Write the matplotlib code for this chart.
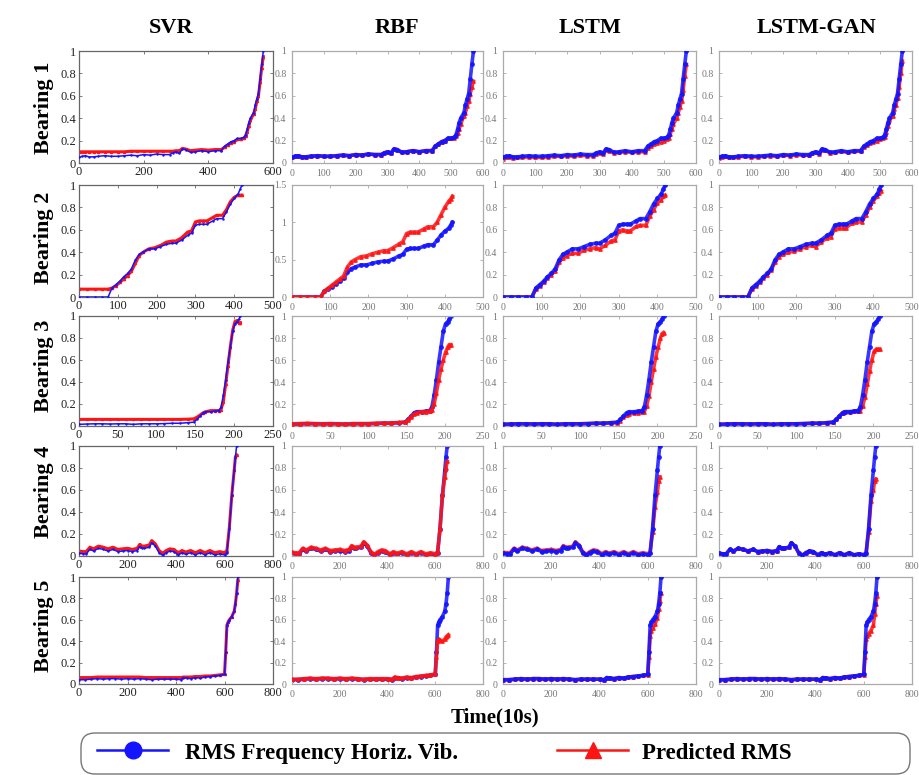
import matplotlib
matplotlib.use('Agg')
import matplotlib.pyplot as plt
from matplotlib.lines import Line2D
from matplotlib.patches import FancyBboxPatch
from matplotlib.transforms import IdentityTransform
from matplotlib.ticker import MultipleLocator, FormatStrFormatter
from matplotlib.font_manager import FontProperties

models = ['SVR', 'RBF', 'LSTM', 'LSTM-GAN']
bearings = ['Bearing 1', 'Bearing 2', 'Bearing 3', 'Bearing 4', 'Bearing 5']
legend_labels = ['RMS Frequency Horiz. Vib.', 'Predicted RMS']
xlabel_text = 'Time(10s)'

# ---------------- Bearing 1 ----------------
x_b1 = [0, 10, 20, 30, 45, 60, 80, 100, 120, 140, 160, 180, 200, 220, 240, 260, 280, 290, 300, 310,
        320, 330, 345, 360, 380, 400, 420, 440, 450, 460, 470, 480, 490, 500, 510, 515, 520, 525, 530,
        540, 545, 550, 555, 560, 565, 570]
true_b1 = [0.05, 0.06, 0.065, 0.055, 0.055, 0.06, 0.065, 0.06, 0.06, 0.065, 0.07, 0.065, 0.075, 0.07,
           0.08, 0.075, 0.075, 0.09, 0.10, 0.085, 0.125, 0.12, 0.095, 0.10, 0.11, 0.10, 0.11, 0.11,
           0.15, 0.17, 0.19, 0.20, 0.22, 0.22, 0.23, 0.25, 0.30, 0.36, 0.40, 0.45, 0.52, 0.57, 0.62,
           0.75, 0.88, 1.00]
svr_b1 = [0.10, 0.10, 0.10, 0.10, 0.10, 0.10, 0.10, 0.10, 0.10, 0.10, 0.105, 0.105, 0.105, 0.105,
          0.105, 0.105, 0.105, 0.105, 0.11, 0.11, 0.13, 0.125, 0.11, 0.115, 0.12, 0.115, 0.12, 0.12,
          0.14, 0.16, 0.18, 0.19, 0.21, 0.21, 0.22, 0.24, 0.28, 0.33, 0.38, 0.44, 0.48, 0.55, 0.60,
          0.72, 0.85, 0.95]
rbf_b1 = [0.05, 0.06, 0.065, 0.055, 0.055, 0.06, 0.065, 0.06, 0.06, 0.065, 0.07, 0.065, 0.075, 0.07,
          0.08, 0.075, 0.075, 0.09, 0.10, 0.085, 0.125, 0.12, 0.095, 0.10, 0.11, 0.10, 0.11, 0.11,
          0.15, 0.17, 0.19, 0.20, 0.22, 0.22, 0.22, 0.24, 0.27, 0.30, 0.35, 0.42, 0.45, 0.51, 0.55,
          0.62, 0.68, 0.73]
lstm_b1 = [0.04, 0.05, 0.055, 0.045, 0.05, 0.05, 0.055, 0.05, 0.05, 0.055, 0.06, 0.06, 0.065, 0.06,
           0.07, 0.065, 0.065, 0.08, 0.09, 0.08, 0.115, 0.11, 0.09, 0.095, 0.10, 0.095, 0.10, 0.10,
           0.13, 0.15, 0.17, 0.18, 0.19, 0.20, 0.21, 0.22, 0.26, 0.30, 0.35, 0.40, 0.45, 0.50, 0.55,
           0.65, 0.78, 0.88]
gan_b1 = [0.045, 0.055, 0.06, 0.05, 0.05, 0.055, 0.06, 0.055, 0.055, 0.06, 0.065, 0.06, 0.07, 0.065,
          0.075, 0.07, 0.07, 0.085, 0.095, 0.08, 0.12, 0.115, 0.09, 0.095, 0.105, 0.095, 0.105, 0.105,
          0.14, 0.16, 0.18, 0.19, 0.20, 0.21, 0.22, 0.23, 0.28, 0.33, 0.38, 0.42, 0.48, 0.52, 0.58,
          0.68, 0.80, 0.91]

# ---------------- Bearing 2 ----------------
x_b2 = [0, 20, 40, 60, 75, 85, 95, 105, 115, 125, 135, 145, 155, 165, 180, 195, 210, 225, 240, 250,
        265, 280, 290, 300, 310, 320, 330, 345, 355, 370, 380, 390, 400, 410, 415, 420]
true_b2 = [0, 0, 0, 0, 0, 0.08, 0.11, 0.14, 0.18, 0.21, 0.25, 0.33, 0.38, 0.40, 0.43, 0.43, 0.45,
           0.47, 0.48, 0.48, 0.51, 0.55, 0.57, 0.64, 0.65, 0.65, 0.65, 0.68, 0.70, 0.70, 0.76, 0.83,
           0.88, 0.92, 0.96, 1.00]
svr_b2 = [0.07, 0.07, 0.07, 0.07, 0.07, 0.08, 0.10, 0.13, 0.16, 0.19, 0.23, 0.30, 0.37, 0.40, 0.43,
          0.44, 0.46, 0.49, 0.50, 0.50, 0.53, 0.58, 0.59, 0.67, 0.68, 0.68, 0.68, 0.71, 0.73, 0.73,
          0.78, 0.85, 0.89, 0.91, 0.91, 0.91]
rbf_b2 = [0, 0, 0, 0, 0, 0.08, 0.12, 0.16, 0.20, 0.24, 0.28, 0.40, 0.47, 0.50, 0.54, 0.55, 0.58,
          0.60, 0.62, 0.62, 0.66, 0.71, 0.74, 0.85, 0.87, 0.87, 0.87, 0.91, 0.94, 0.94, 1.00, 1.10,
          1.20, 1.28, 1.31, 1.35]
lstm_b2 = [0, 0, 0, 0, 0, 0.07, 0.10, 0.13, 0.17, 0.20, 0.23, 0.31, 0.35, 0.37, 0.39, 0.39, 0.42,
           0.43, 0.44, 0.43, 0.46, 0.50, 0.51, 0.59, 0.60, 0.59, 0.59, 0.63, 0.64, 0.64, 0.72, 0.78,
           0.84, 0.87, 0.90, 0.91]
gan_b2 = [0, 0, 0, 0, 0, 0.07, 0.10, 0.13, 0.17, 0.20, 0.24, 0.31, 0.36, 0.38, 0.40, 0.41, 0.43,
          0.45, 0.46, 0.45, 0.49, 0.53, 0.54, 0.61, 0.62, 0.62, 0.62, 0.66, 0.67, 0.67, 0.73, 0.80,
          0.86, 0.90, 0.93, 0.95]

# ---------------- Bearing 3 ----------------
x_b3 = [0, 10, 20, 30, 40, 50, 60, 70, 80, 90, 100, 110, 120, 130, 140, 148, 152, 156, 160, 163,
        170, 175, 180, 183, 186, 189, 192, 195, 198, 201, 204, 206, 208]
true_b3 = [0.015, 0.018, 0.02, 0.02, 0.018, 0.02, 0.02, 0.015, 0.02, 0.02, 0.02, 0.022, 0.025, 0.025,
           0.03, 0.035, 0.06, 0.09, 0.12, 0.13, 0.13, 0.135, 0.14, 0.17, 0.28, 0.42, 0.58, 0.72,
           0.86, 0.93, 0.95, 0.97, 1.00]
svr_b3 = [0.06, 0.06, 0.06, 0.06, 0.06, 0.06, 0.06, 0.06, 0.06, 0.06, 0.06, 0.06, 0.06, 0.06,
          0.062, 0.065, 0.08, 0.10, 0.12, 0.13, 0.14, 0.14, 0.14, 0.15, 0.22, 0.38, 0.55, 0.72,
          0.87, 0.95, 0.96, 0.94, 0.94]
rbf_b3 = [0.02, 0.022, 0.025, 0.022, 0.02, 0.022, 0.02, 0.018, 0.022, 0.022, 0.022, 0.025, 0.028,
          0.028, 0.032, 0.035, 0.055, 0.085, 0.11, 0.12, 0.13, 0.13, 0.135, 0.15, 0.20, 0.30, 0.42,
          0.52, 0.60, 0.67, 0.72, 0.74, 0.74]
lstm_b3 = [0.015, 0.018, 0.02, 0.02, 0.018, 0.02, 0.02, 0.015, 0.02, 0.02, 0.02, 0.022, 0.025,
           0.025, 0.03, 0.03, 0.05, 0.08, 0.10, 0.11, 0.12, 0.12, 0.125, 0.13, 0.18, 0.27, 0.40,
           0.52, 0.63, 0.72, 0.80, 0.84, 0.85]
gan_b3 = [0.015, 0.018, 0.02, 0.02, 0.018, 0.02, 0.02, 0.015, 0.02, 0.02, 0.02, 0.022, 0.025,
          0.025, 0.03, 0.035, 0.06, 0.09, 0.12, 0.13, 0.13, 0.135, 0.14, 0.14, 0.18, 0.26, 0.38,
          0.50, 0.60, 0.68, 0.70, 0.70, 0.70]

# ---------------- Bearing 4 ----------------
x_b4 = [0, 15, 30, 45, 60, 80, 100, 120, 140, 160, 180, 200, 220, 240, 250, 260, 270, 290, 300,
        315, 330, 345, 360, 375, 390, 410, 425, 440, 460, 480, 500, 520, 540, 560, 580, 600, 610,
        620, 630, 640, 645, 650]
true_b4 = [0.025, 0.02, 0.02, 0.06, 0.045, 0.07, 0.06, 0.045, 0.06, 0.04, 0.045, 0.05, 0.04, 0.05,
           0.085, 0.07, 0.07, 0.08, 0.12, 0.09, 0.03, 0.005, 0.03, 0.045, 0.04, 0.01, 0.03, 0.015,
           0.03, 0.01, 0.03, 0.01, 0.03, 0.01, 0.02, 0.01, 0.03, 0.25, 0.55, 0.78, 0.90, 1.00]
svr_b4 = [0.045, 0.04, 0.04, 0.08, 0.065, 0.09, 0.08, 0.065, 0.08, 0.06, 0.065, 0.07, 0.06, 0.07,
          0.105, 0.09, 0.09, 0.10, 0.14, 0.11, 0.05, 0.025, 0.05, 0.065, 0.06, 0.03, 0.05, 0.035,
          0.05, 0.03, 0.05, 0.03, 0.05, 0.03, 0.04, 0.03, 0.05, 0.26, 0.55, 0.78, 0.90, 0.92]
rbf_b4 = [0.035, 0.03, 0.03, 0.07, 0.055, 0.08, 0.07, 0.055, 0.07, 0.05, 0.055, 0.06, 0.05, 0.06,
          0.095, 0.08, 0.08, 0.09, 0.13, 0.10, 0.04, 0.015, 0.04, 0.055, 0.05, 0.02, 0.04, 0.025,
          0.04, 0.02, 0.04, 0.02, 0.04, 0.02, 0.03, 0.02, 0.04, 0.25, 0.55, 0.72, 0.80, 0.86]
lstm_b4 = [0.035, 0.03, 0.03, 0.07, 0.055, 0.08, 0.07, 0.055, 0.07, 0.05, 0.055, 0.06, 0.05, 0.06,
           0.095, 0.08, 0.08, 0.09, 0.13, 0.10, 0.04, 0.015, 0.04, 0.055, 0.05, 0.02, 0.04, 0.025,
           0.04, 0.02, 0.04, 0.02, 0.04, 0.02, 0.03, 0.02, 0.04, 0.22, 0.45, 0.58, 0.68, 0.72]
gan_b4 = [0.025, 0.02, 0.02, 0.06, 0.045, 0.07, 0.06, 0.045, 0.06, 0.04, 0.045, 0.05, 0.04, 0.05,
          0.085, 0.07, 0.07, 0.08, 0.12, 0.09, 0.03, 0.005, 0.03, 0.045, 0.04, 0.01, 0.03, 0.015,
          0.03, 0.01, 0.03, 0.01, 0.03, 0.01, 0.02, 0.01, 0.03, 0.22, 0.50, 0.60, 0.68, 0.70]

# ---------------- Bearing 5 ----------------
x_b5 = [0, 25, 50, 75, 100, 125, 150, 175, 200, 225, 250, 275, 300, 325, 350, 375, 400, 420, 430,
        445, 460, 480, 500, 520, 540, 560, 580, 600, 605, 610, 615, 620, 630, 640, 645, 650, 655]
true_b5 = [0.04, 0.04, 0.045, 0.05, 0.045, 0.05, 0.05, 0.045, 0.05, 0.045, 0.05, 0.045, 0.04,
           0.045, 0.045, 0.045, 0.045, 0.04, 0.06, 0.055, 0.05, 0.06, 0.055, 0.065, 0.07, 0.075,
           0.08, 0.09, 0.30, 0.55, 0.58, 0.60, 0.63, 0.68, 0.75, 0.85, 1.00]
svr_b5 = [0.06, 0.06, 0.06, 0.065, 0.065, 0.065, 0.065, 0.065, 0.065, 0.065, 0.065, 0.06, 0.06,
          0.06, 0.06, 0.06, 0.06, 0.06, 0.065, 0.065, 0.065, 0.07, 0.07, 0.075, 0.075, 0.08, 0.085,
          0.09, 0.30, 0.55, 0.58, 0.60, 0.63, 0.68, 0.75, 0.85, 0.97]
rbf_b5 = [0.045, 0.045, 0.05, 0.055, 0.05, 0.055, 0.055, 0.05, 0.055, 0.05, 0.055, 0.05, 0.045,
          0.05, 0.05, 0.05, 0.05, 0.045, 0.065, 0.06, 0.055, 0.065, 0.06, 0.07, 0.075, 0.08, 0.085,
          0.095, 0.25, 0.40, 0.42, 0.41, 0.40, 0.42, 0.44, 0.45, 0.46]
lstm_b5 = [0.04, 0.04, 0.045, 0.05, 0.045, 0.05, 0.05, 0.045, 0.05, 0.045, 0.05, 0.045, 0.04,
           0.045, 0.045, 0.045, 0.045, 0.04, 0.06, 0.055, 0.05, 0.06, 0.055, 0.065, 0.07, 0.075,
           0.08, 0.085, 0.25, 0.45, 0.50, 0.52, 0.56, 0.62, 0.70, 0.78, 0.85]
gan_b5 = [0.04, 0.04, 0.045, 0.05, 0.045, 0.05, 0.05, 0.045, 0.05, 0.045, 0.05, 0.045, 0.04,
          0.045, 0.045, 0.045, 0.045, 0.04, 0.06, 0.055, 0.05, 0.06, 0.055, 0.065, 0.07, 0.075,
          0.08, 0.085, 0.25, 0.42, 0.45, 0.47, 0.50, 0.55, 0.65, 0.75, 0.82]

x_data = [x_b1, x_b2, x_b3, x_b4, x_b5]
true_data = [true_b1, true_b2, true_b3, true_b4, true_b5]
pred_data = [[svr_b1, rbf_b1, lstm_b1, gan_b1],
             [svr_b2, rbf_b2, lstm_b2, gan_b2],
             [svr_b3, rbf_b3, lstm_b3, gan_b3],
             [svr_b4, rbf_b4, lstm_b4, gan_b4],
             [svr_b5, rbf_b5, lstm_b5, gan_b5]]

# axis settings per row
xmax_rows = [600, 500, 250, 800, 800]
xstep_svr = [200, 100, 50, 200, 200]
xstep_other = [100, 100, 50, 200, 200]

# ---------------- layout ----------------
W, H = 919, 775
fig = plt.figure(figsize=(W / 100, H / 100), dpi=100)
fig.patch.set_facecolor('white')

col_px = [(79, 273), (292, 483), (503, 696), (719, 912)]
row_px = [(51, 163), (185, 297), (316, 426), (446, 556), (577, 684)]

SERIF = 'Liberation Serif'
BLUE = '#1414ff'
RED = '#ff1414'

for r in range(5):
    for c in range(4):
        x0, x1 = col_px[c]
        y0, y1 = row_px[r]
        ax = fig.add_axes([x0 / W, 1 - y1 / H, (x1 - x0) / W, (y1 - y0) / H])
        xs = x_data[r]
        if c == 0:
            ax.plot(xs, true_data[r], color=BLUE, lw=1.1, marker='.', ms=1.5, zorder=3)
            ax.plot(xs, pred_data[r][c], color=RED, lw=2.2, marker='^', ms=1.5, zorder=2)
            frame_col, lab_col, lsize, lpad = '#666666', '#222222', 9, 2
        else:
            red_top = (c == 1 and r > 0)
            ax.plot(xs, true_data[r], color=BLUE, lw=2.6, marker='o', ms=2.5, alpha=0.85,
                    zorder=2 if red_top else 3)
            ax.plot(xs, pred_data[r][c], color=RED, lw=2.6, marker='^', ms=2.5, alpha=0.85,
                    zorder=3 if red_top else 2)
            frame_col, lab_col, lsize, lpad = '#aaaaaa', '#777777', 7, 4
        ax.set_xlim(0, xmax_rows[r])
        if c == 1 and r == 1:
            ax.set_ylim(0, 1.5)
            ax.yaxis.set_major_locator(MultipleLocator(0.5))
        else:
            ax.set_ylim(0, 1)
            ax.yaxis.set_major_locator(MultipleLocator(0.2))
        ax.xaxis.set_major_locator(MultipleLocator(xstep_svr[r] if c == 0 else xstep_other[r]))
        ax.yaxis.set_major_formatter(FormatStrFormatter('%g'))
        ax.xaxis.set_major_formatter(FormatStrFormatter('%g'))
        for s in ax.spines.values():
            s.set_color(frame_col)
            s.set_linewidth(0.9)
        ax.tick_params(direction='in', length=2.5, width=0.6, top=True, right=True,
                       colors=frame_col, labelcolor=lab_col, labelsize=lsize, pad=lpad)
        for lab in ax.get_xticklabels() + ax.get_yticklabels():
            lab.set_fontfamily(SERIF)

# column headers
header_x = [171, 397, 590, 816]
for name, hx in zip(models, header_x):
    fig.text(hx / W, 1 - 28 / H, name, ha='center', va='center', fontsize=16,
             fontweight='bold', family=SERIF)

# row labels
row_lab_y = [108, 238, 366, 492, 626]
for name, ry in zip(bearings, row_lab_y):
    fig.text(44 / W, 1 - ry / H, name, ha='center', va='center', rotation=90,
             fontsize=16, fontweight='bold', family=SERIF)

# x label
fig.text(495 / W, 1 - 717 / H, xlabel_text, ha='center', va='center', fontsize=15,
         fontweight='bold', family=SERIF)

# legend frame
box = FancyBboxPatch((81, H - 774), 829, 41, boxstyle='round,pad=0,rounding_size=14',
                     transform=IdentityTransform(), facecolor='white', edgecolor='#777777',
                     linewidth=1.0)
fig.add_artist(box)

prop = FontProperties(family=SERIF, weight='bold', size=16.5)
h_blue = Line2D([], [], color=BLUE, lw=1.8, marker='o', ms=12)
h_red = Line2D([], [], color=RED, lw=1.8, marker='^', ms=12)
fig.legend([h_blue], [legend_labels[0]], loc='center left', bbox_to_anchor=(97 / W, 1 - 753 / H),
           frameon=False, handlelength=3.1, handletextpad=0.75, borderpad=0, borderaxespad=0,
           prop=prop)
fig.legend([h_red], [legend_labels[1]], loc='center left', bbox_to_anchor=(557 / W, 1 - 753 / H),
           frameon=False, handlelength=3.1, handletextpad=0.6, borderpad=0, borderaxespad=0,
           prop=prop)

fig.savefig('out.png', dpi=100, facecolor='white')
